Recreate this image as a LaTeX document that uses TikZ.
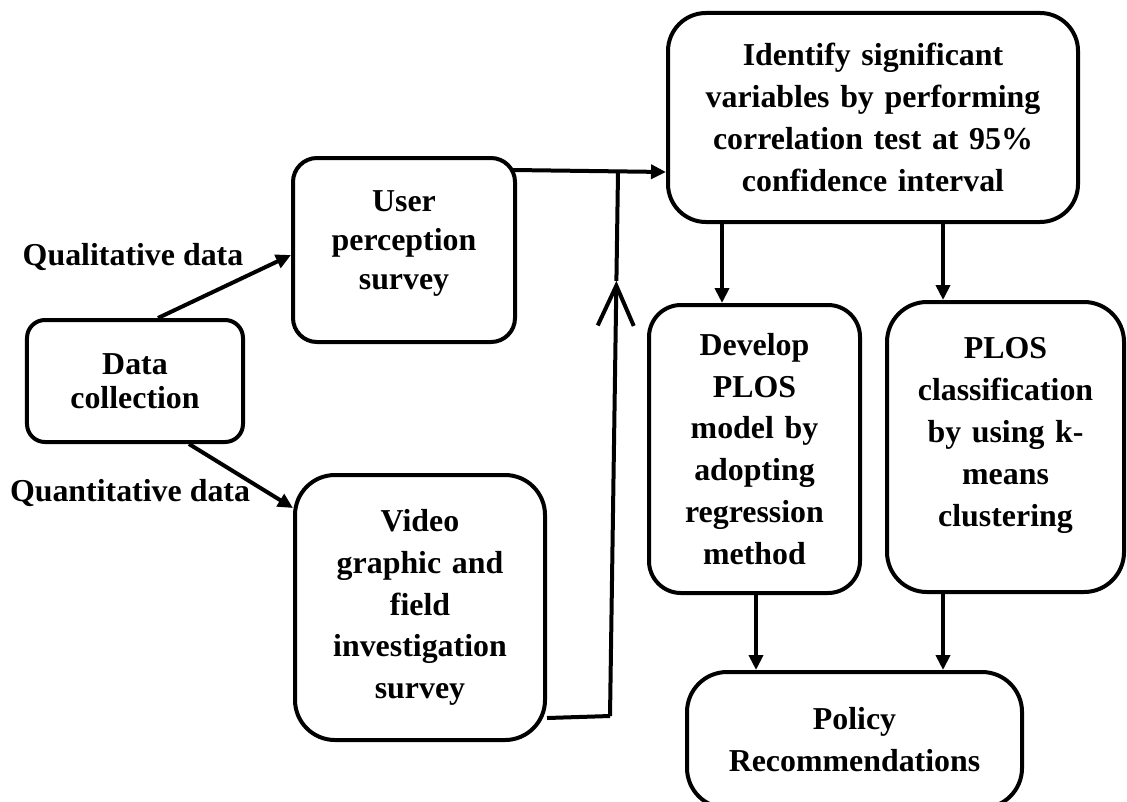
\documentclass[tikz,border=0pt]{standalone}
\usepackage{fontspec}
\setmainfont{Liberation Serif}
\usetikzlibrary{arrows.meta, positioning, calc}
\tikzset{
  box/.style={rectangle, draw, line width=2bp, align=center, inner sep=0pt,
    font=\bfseries\fontsize{16}{21}\selectfont},
  arrow/.style={-{Triangle[length=7.5bp, width=7bp]}, line width=2bp},
  barb/.style={-{Straight Barb[length=20bp, width=18bp]}, line width=2bp},
  flowlabel/.style={font=\bfseries\fontsize{16}{21}\selectfont},
}
% invisible strut to push a text block upward
\newcommand{\lowstrut}[1]{\rule[-#1]{0pt}{#1}}

\begin{document}
\begin{tikzpicture}[x=0.5bp, y=-0.5bp]
  \useasboundingbox (0,0) rectangle (1127,801);

  % Left column -- data collection
  \node[box, rounded corners=9bp, text width=100bp, minimum width=108bp,
        minimum height=61bp, font=\bfseries\fontsize{16}{17}\selectfont]
        (datacol) at (135,381) {Data\\collection};
  \node[box, rounded corners=12bp, text width=100bp, minimum width=111bp,
        minimum height=92bp, font=\bfseries\fontsize{16}{19.5}\selectfont]
        (userper) at (404,250) {User\\perception\\survey\lowstrut{10bp}};
  \node[box, rounded corners=20bp, text width=115bp, minimum width=125bp,
        minimum height=132.5bp] (video) at (420,607.5)
        {Video\\graphic and\\field\\investigation\\survey};

  % Right part -- analysis
  \node[box, rounded corners=19bp, text width=190bp, minimum width=205bp,
        minimum height=104.5bp] (identify) at (873,117.5)
        {Identify significant\\variables by performing\\correlation test at 95\%\\confidence interval};
  \node[box, rounded corners=16bp, text width=98bp, minimum width=105.5bp,
        minimum height=144bp] (develop) at (754.5,449)
        {Develop\\PLOS\\model by\\adopting\\regression\\method};
  \node[box, rounded corners=20bp, text width=110bp, minimum width=118.5bp,
        minimum height=145bp] (plosclass) at (1005.5,447)
        {PLOS\\classification\\by using k-\\means\\clustering\lowstrut{15bp}};
  \node[box, rounded corners=20bp, text width=155bp, minimum width=167.5bp,
        minimum height=68bp] (policy) at (854.5,740) {Policy\\Recommendations};

  % Edge labels
  \node[flowlabel] (qual)  at (133,257) {Qualitative data};
  \node[flowlabel] (quant) at (130,493) {Quantitative data};

  % Helper points
  \coordinate (join) at (618,172);
  \coordinate (bend) at (610,716);
  \coordinate (colA) at (722,0);
  \coordinate (colB) at (943,0);
  \coordinate (colC) at (756,0);

  % Arrows
  \draw[arrow] ($(datacol.north)+(23,0)$) -- ($(userper.west)+(0,5)$);
  \draw[arrow] ($(datacol.south)+(54,0)$) -- ($(video.west)+(0,-99.5)$);
  \draw[arrow] ($(userper.north east)+(-4,14)$) -- (identify.west |- join);
  \draw[line width=2bp] ($(video.south east)+(0,-24)$) -- (bend);
  \draw[barb] (bend) -- ($(bend)!0.8!(join)$);
  \draw[line width=2bp] ($(bend)!0.8!(join)$) -- (join);
  \draw[arrow] (identify.south -| colA) -- (develop.north -| colA);
  \draw[arrow] (identify.south -| colB) -- (plosclass.north -| colB);
  \draw[arrow] (develop.south -| colC) -- (policy.north -| colC);
  \draw[arrow] (plosclass.south -| colB) -- (policy.north -| colB);
\end{tikzpicture}
\end{document}
